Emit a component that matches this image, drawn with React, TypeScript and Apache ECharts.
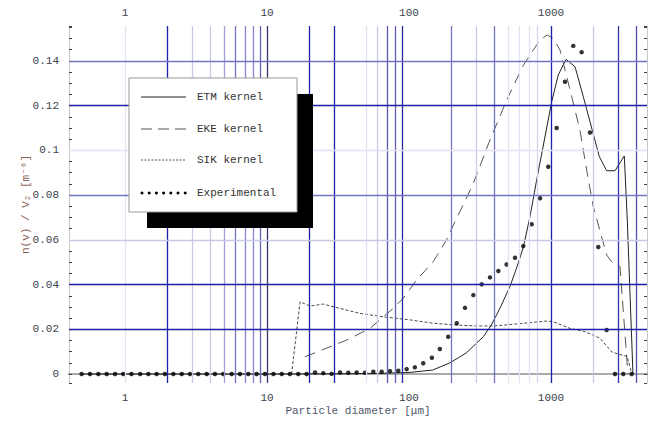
import React, { useEffect, useRef } from "react";
import * as echarts from "echarts";

// ---------- data ----------
const xTickValues = [1, 10, 100, 1000];
const yTickValues = [0, 0.02, 0.04, 0.06, 0.08, 0.1, 0.12, 0.14];

const expDiameter = [
  0.495, 0.567, 0.649, 0.743, 0.851, 0.973, 1.11, 1.28, 1.46, 1.67, 1.91, 2.19, 2.51, 2.87, 3.28, 3.76, 4.3,
  4.92, 5.64, 6.45, 7.38, 8.45, 9.68, 11.1, 12.7, 14.5, 16.6, 19.0, 21.8, 24.9, 28.5, 32.7, 37.4, 42.8, 49.0,
  56.1, 64.2, 73.5, 84.1, 96.3, 110, 126, 145, 165, 189, 217, 248, 284, 325, 372, 426, 487, 558, 638, 731,
  837, 957, 1096, 1255, 1436, 1644, 1882, 2154, 2466, 2823, 3231, 3699,
];
const expValue = [
  0, 0, 0, 0, 0, 0, 0, 0, 0, 0, 0, 0, 0, 0, 0, 0, 0, 0, 0, 0, 0, 0, 0, 0, 0, 0, 0, 0, 0.0007, 0.0004, 0.0001,
  0.0007, 0.0006, 0.0007, 0.0006, 0.001, 0.001, 0.0013, 0.0015, 0.0022, 0.003, 0.0048, 0.0073, 0.0112, 0.0167,
  0.0227, 0.0296, 0.0353, 0.0401, 0.0432, 0.0461, 0.049, 0.052, 0.0572, 0.067, 0.0786, 0.0927, 0.11, 0.1307,
  0.1467, 0.1439, 0.108, 0.0568, 0.0197, 0, 0, 0,
];

const etmDiameter = [
  0.5, 10, 30, 60, 100, 147, 194, 254, 334, 380, 437, 513, 572, 640, 711, 793, 1012, 1125, 1276, 1477, 1689,
  2190, 2467, 2823, 3283, 3446, 3779,
];
const etmValue = [
  0, 0, 0.0001, 0.0003, 0.0007, 0.0018, 0.005, 0.0095, 0.0167, 0.0219, 0.0294, 0.039, 0.0473, 0.0569, 0.0703,
  0.0868, 0.1218, 0.1337, 0.1407, 0.1374, 0.124, 0.0972, 0.0909, 0.0909, 0.0975, 0.0689, 0,
];

const ekeDiameter = [
  18.5, 36.4, 53.1, 77.5, 91.2, 113, 148, 184, 217, 254, 284, 372, 488, 638, 837, 942, 1038, 1157, 1290, 1400,
  1600, 1783, 1986, 2467, 2673, 3062, 3483,
];
const ekeValue = [
  0.0077, 0.0152, 0.0204, 0.0294, 0.0339, 0.042, 0.0502, 0.06, 0.0698, 0.0787, 0.0853, 0.1047, 0.1225, 0.138,
  0.1494, 0.1516, 0.15, 0.1449, 0.133, 0.124, 0.109, 0.0912, 0.0748, 0.0532, 0.0502, 0.048, 0,
];

const sikDiameter = [
  14.9, 17.1, 20.1, 24.9, 29.3, 45.2, 69.7, 102, 148, 217, 300, 393, 573, 933, 1038, 1361, 1735, 2213, 2690,
  3162, 3430, 3715,
];
const sikValue = [
  0, 0.0323, 0.0304, 0.0313, 0.0301, 0.0271, 0.0254, 0.0242, 0.0227, 0.0219, 0.0215, 0.0215, 0.0224, 0.0237,
  0.0234, 0.0204, 0.019, 0.016, 0.0098, 0.0085, 0.008, 0,
];

const seriesNames = ["ETM kernel", "EKE kernel", "SIK kernel", "Experimental"];

// grid lines (value + shade)
const xGridValues = [1, 2, 3, 4, 5, 6, 7, 8, 9, 10, 20, 30, 50, 60, 70, 80, 90, 200, 300, 400, 500, 600, 700, 800, 1000, 2000, 3000, 4000];
const DARK = "#1e1ea6";
const MED = "#7474c4";
const LIGHT = "#c8c8e8";
const FAINT = "#e2e2f2";
const xGridShades = [
  FAINT, DARK, LIGHT, LIGHT, "#a0a0d6", MED, "#8686cc", "#8686cc", "#6262ba", "#34346e",
  DARK, DARK, FAINT, LIGHT, "#5656b6", "#5e5eba", "#2a2aa6", MED, LIGHT, MED,
  FAINT, FAINT, FAINT, "#d4d4ec", DARK, LIGHT, "#3232aa", "#4e4eb4",
];
const yGridValues = [0.02, 0.04, 0.06, 0.08, 0.1, 0.12, 0.14];
const yGridShades = [DARK, DARK, LIGHT, MED, FAINT, DARK, MED];

const MONO = '"Liberation Mono", "DejaVu Sans Mono", monospace';

function zip(xs: number[], ys: number[]) {
  return xs.map((x, i) => [x, ys[i]]);
}

function fmtY(v: number) {
  const r = Math.round(v * 10000) / 10000;
  if (!yTickValues.some((t) => Math.abs(t - r) < 1e-9)) return "";
  return String(r);
}
function fmtX(v: number) {
  const r = Math.round(v);
  return xTickValues.includes(r) && Math.abs(v - r) < 1e-6 ? String(r) : "";
}

export default function App() {
  const ref = useRef<HTMLDivElement>(null);
  useEffect(() => {
    if (!ref.current) return;
    const chart = echarts.init(ref.current, undefined, { renderer: "svg" });

    const xMin = 0.4034;
    const xMax = 4744;
    const yMin = -0.004;
    const yMax = 0.1556;

    const xAxisBase = {
      type: "log",
      logBase: 10,
      min: xMin,
      max: xMax,
      splitLine: { show: false },
      minorSplitLine: { show: false },
      axisTick: { show: false },
      minorTick: { show: false },
    };
    const yAxisBase = {
      type: "value",
      min: yMin,
      max: yMax,
      splitNumber: 8,
      splitLine: { show: false },
      axisTick: { show: true, inside: true, length: 3, lineStyle: { color: "#444" } },
      minorTick: { show: true, splitNumber: 4, length: 3, lineStyle: { color: "#444" } },
    };

    const legendRows = [97, 129, 160, 193];
    const legendDots = Array.from({ length: 7 }, (_, k) => ({
      type: "circle",
      shape: { cx: 142 + k * 7.2, cy: legendRows[3], r: 1.5 },
      style: { fill: "#000" },
      z: 102,
    }));

    const option: any = {
      animation: false,
      backgroundColor: "#ffffff",
      grid: { left: 69, right: 13, top: 26, bottom: 38, containLabel: false, outerBoundsMode: "none" },
      xAxis: [
        {
          ...xAxisBase,
          position: "bottom",
          axisLine: { show: true, lineStyle: { color: "#555", width: 2 } },
          axisLabel: {
            formatter: fmtX,
            color: "#3a3f4e",
            fontFamily: MONO,
            fontSize: 11,
            margin: 9,
            showMinLabel: false,
            showMaxLabel: false,
          },
          name: "Particle diameter [μm]",
          nameLocation: "middle",
          nameGap: 22,
          nameMoveOverlap: false,
          nameTextStyle: { color: "#50586a", fontFamily: MONO, fontSize: 11 },
        },
        {
          ...xAxisBase,
          position: "top",
          axisLine: { show: true, lineStyle: { color: "#aaa", width: 2 } },
          axisLabel: {
            formatter: fmtX,
            color: "#3a3f4e",
            fontFamily: MONO,
            fontSize: 11,
            margin: 8,
            showMinLabel: false,
            showMaxLabel: false,
          },
        },
      ],
      yAxis: [
        {
          ...yAxisBase,
          position: "left",
          axisLine: { show: true, lineStyle: { color: "#c8c8c8", width: 1 } },
          axisLabel: {
            formatter: fmtY,
            color: "#3a3f4e",
            fontFamily: MONO,
            fontSize: 11,
            margin: 10,
            showMinLabel: false,
            showMaxLabel: false,
          },
          name: "n(v) / V₂ [m⁻⁶]",
          nameLocation: "middle",
          nameGap: 38,
          nameMoveOverlap: false,
          nameTextStyle: { color: "#8a6050", fontFamily: MONO, fontSize: 11 },
        },
        {
          ...yAxisBase,
          position: "right",
          axisLine: { show: true, lineStyle: { color: "#c8c8c8", width: 1 } },
          axisLabel: { show: false },
        },
      ],
      series: [
        {
          name: "grid",
          type: "line",
          data: [],
          silent: true,
          z: 1,
          markLine: {
            silent: true,
            symbol: ["none", "none"],
            label: { show: false },
            animation: false,
            data: [
              ...xGridValues.map((v, i) => ({
                xAxis: v,
                lineStyle: { color: xGridShades[i], width: 1.3, type: "solid" },
              })),
              ...yGridValues.map((v, i) => ({
                yAxis: v,
                lineStyle: { color: yGridShades[i], width: 1.3, type: "solid" },
              })),
            ],
          },
        },
        {
          name: seriesNames[0],
          type: "line",
          data: zip(etmDiameter, etmValue),
          symbol: "none",
          lineStyle: { color: "#222", width: 1 },
          z: 3,
        },
        {
          name: seriesNames[1],
          type: "line",
          data: zip(ekeDiameter, ekeValue),
          symbol: "none",
          lineStyle: { color: "#555", width: 1, type: [11, 7] },
          z: 3,
        },
        {
          name: seriesNames[2],
          type: "line",
          data: zip(sikDiameter, sikValue),
          symbol: "none",
          lineStyle: { color: "#333", width: 0.9, type: [3, 2] },
          z: 3,
        },
        {
          name: seriesNames[3],
          type: "scatter",
          data: zip(expDiameter, expValue),
          symbol: "circle",
          symbolSize: 4.5,
          itemStyle: { color: "#000" },
          z: 4,
        },
      ],
      graphic: [
        { type: "rect", shape: { x: 147, y: 94, width: 166, height: 134 }, style: { fill: "#000" }, z: 100 },
        {
          type: "rect",
          shape: { x: 129, y: 78, width: 168, height: 134 },
          style: { fill: "#fff", stroke: "#999", lineWidth: 1 },
          z: 101,
        },
        {
          type: "line",
          shape: { x1: 141, y1: legendRows[0], x2: 186, y2: legendRows[0] },
          style: { stroke: "#222", lineWidth: 1 },
          z: 102,
        },
        {
          type: "line",
          shape: { x1: 141, y1: legendRows[1], x2: 186, y2: legendRows[1] },
          style: { stroke: "#555", lineWidth: 1, lineDash: [11, 6] },
          z: 102,
        },
        {
          type: "line",
          shape: { x1: 141, y1: legendRows[2], x2: 186, y2: legendRows[2] },
          style: { stroke: "#444", lineWidth: 0.9, lineDash: [2, 1.5] },
          z: 102,
        },
        ...legendDots,
        ...seriesNames.map((n, i) => ({
          type: "text",
          x: 197,
          y: legendRows[i],
          style: {
            text: n,
            fontFamily: MONO,
            fontSize: 11,
            fill: "#333",
            verticalAlign: "middle",
          },
          z: 102,
        })),
      ],
    };

    chart.setOption(option);
    return () => chart.dispose();
  }, []);

  return (
    <div
      ref={ref}
      style={{ position: "fixed", left: 0, top: 0, width: 660, height: 421, background: "#fff" }}
    />
  );
}
